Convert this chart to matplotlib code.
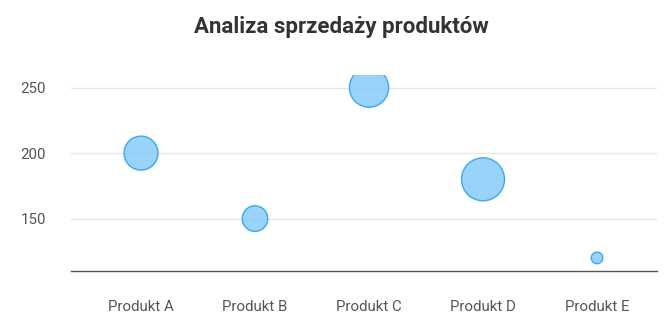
import matplotlib
matplotlib.use('Agg')
import matplotlib.pyplot as plt
import numpy as np

plt.rcParams['font.family'] = ['Roboto', 'DejaVu Sans']

# dane
produkty = ['Produkt A', 'Produkt B', 'Produkt C', 'Produkt D', 'Produkt E']
sprzedaz = [200, 150, 250, 180, 120]
wielkosc = [30, 17, 40, 48, 3.5]
y_ticks = [150, 200, 250]

fig = plt.figure(figsize=(6.69, 3.28), dpi=100)
ax = fig.add_axes([71/669, 1 - 271/328, 586/669, 196.5/328])

x = np.arange(len(produkty))
# promien w px ~ 3.1*sqrt(wielkosc), s w pt^2
s = [(2 * 3.1 * np.sqrt(w) * 0.72) ** 2 for w in wielkosc]
ax.scatter(x, sprzedaz, s=s, facecolor=(0.53, 0.80, 0.98, 0.85),
           edgecolor='#3aa8f2', linewidth=1.0, zorder=3)

ax.set_xlim(-0.614, 4.526)
ax.set_ylim(110, 260)
ax.set_xticks(x)
ax.set_xticklabels(produkty)
ax.set_yticks(y_ticks)
ax.tick_params(axis='both', length=0, labelsize=10.8, labelcolor='#555555')
ax.tick_params(axis='x', pad=21)
ax.tick_params(axis='y', pad=18)
ax.grid(axis='y', color='#e6e6e6', linewidth=1.0)
ax.set_axisbelow(True)
for side in ['left', 'right', 'top']:
    ax.spines[side].set_visible(False)
ax.spines['bottom'].set_color('#555555')
ax.spines['bottom'].set_linewidth(1.0)

fig.text(0.511, 1 - 27/328, 'Analiza sprzedaży produktów', ha='center', va='center',
         fontsize=16, fontweight='bold', color='#333333')

fig.savefig('out.png', dpi=100)
